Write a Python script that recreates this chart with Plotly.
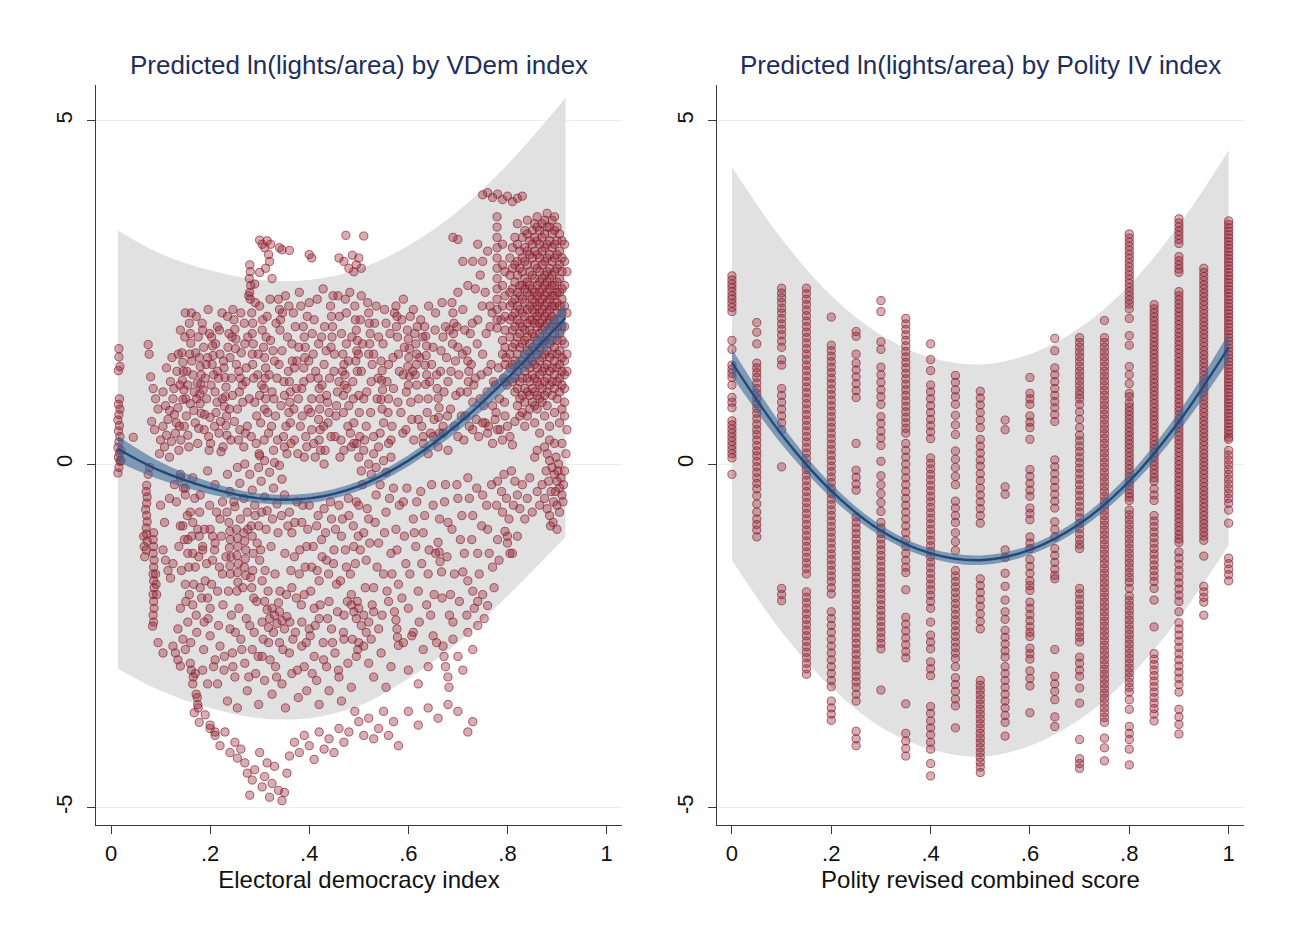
import plotly.graph_objects as go

# ---------------- VDem panel: fitted curve, 95% CI, prediction band ----------------
vdem_grid = [0.014, 0.1, 0.2, 0.3, 0.4, 0.5, 0.6, 0.7, 0.8, 0.917]
vdem_fit = [0.22, -0.10, -0.35, -0.50, -0.50, -0.32, 0.05, 0.58, 1.25, 2.13]
vdem_ci_hi = [0.41, 0.03, -0.26, -0.43, -0.43, -0.25, 0.13, 0.68, 1.39, 2.34]
vdem_ci_lo = [0.03, -0.23, -0.44, -0.57, -0.57, -0.39, -0.03, 0.48, 1.11, 1.92]
vdem_pi_hi = [3.40, 3.06, 2.82, 2.68, 2.68, 2.84, 3.18, 3.68, 4.36, 5.33]
vdem_pi_lo = [-2.98, -3.30, -3.55, -3.70, -3.70, -3.52, -3.12, -2.60, -1.92, -1.06]

# ---------------- Polity panel: fitted curve, 95% CI, prediction band ----------------
polity_grid = [0.0, 0.1, 0.2, 0.3, 0.4, 0.5, 0.6, 0.7, 0.8, 0.9, 1.0]
polity_fit = [1.48, 0.43, -0.39, -0.97, -1.30, -1.40, -1.25, -0.87, -0.25, 0.62, 1.70]
polity_ci_hi = [1.68, 0.57, -0.29, -0.89, -1.23, -1.33, -1.18, -0.79, -0.15, 0.76, 1.90]
polity_ci_lo = [1.28, 0.29, -0.49, -1.05, -1.37, -1.47, -1.32, -0.95, -0.35, 0.48, 1.50]
polity_pi_hi = [4.32, 3.28, 2.45, 1.88, 1.55, 1.45, 1.60, 1.98, 2.60, 3.48, 4.57]
polity_pi_lo = [-1.40, -2.44, -3.25, -3.83, -4.15, -4.26, -4.10, -3.72, -3.10, -2.24, -1.18]

# ---------------- VDem observations (electoral democracy, ln lights/area) ----------------
vdem_low_autocracies = [
    (0.016, 1.68), (0.016, 1.56), (0.018, 1.42), (0.015, 1.36), (0.017, 0.95), (0.015, 0.87),
    (0.018, 0.80), (0.016, 0.72), (0.014, 0.64), (0.017, 0.56), (0.015, 0.48), (0.018, 0.40),
    (0.016, 0.32), (0.014, 0.24), (0.017, 0.16), (0.015, 0.10), (0.018, 0.04), (0.016, -0.05),
    (0.014, -0.13), (0.020, 0.20), (0.020, 0.05),
    (0.072, -0.31), (0.071, -0.40), (0.073, -0.48), (0.072, -0.57), (0.070, -0.66), (0.072, -0.75),
    (0.073, -0.84), (0.071, -0.93), (0.072, -1.02), (0.073, -1.12), (0.071, -1.25), (0.066, -1.05),
    (0.067, -1.20), (0.068, -1.35), (0.086, -1.00), (0.085, -1.10), (0.086, -1.20), (0.085, -1.30),
    (0.087, -1.40), (0.086, -1.50), (0.085, -1.60), (0.086, -1.70), (0.087, -1.80), (0.085, -1.90),
    (0.086, -2.00), (0.087, -2.10), (0.085, -2.20), (0.086, -2.30), (0.084, -2.36), (0.090, -1.60),
    (0.091, -1.75), (0.092, -1.90), (0.075, -0.15), (0.078, -0.05),
    (0.045, 0.39), (0.075, 1.74), (0.077, 1.60), (0.080, 1.27), (0.085, 1.10), (0.090, 0.95),
    (0.095, 0.80), (0.082, 0.62), (0.088, 0.50), (0.100, 0.35), (0.105, 1.05), (0.110, 0.85),
    (0.115, 0.65), (0.120, 1.20), (0.125, 0.95), (0.130, 0.45), (0.098, 0.15), (0.108, 0.25),
    (0.118, 0.10), (0.128, 0.72), (0.112, 1.40), (0.123, 1.55), (0.133, 1.35), (0.137, 0.20),
    (0.105, -1.25), (0.110, -1.40), (0.115, -1.55), (0.120, -1.66), (0.125, -1.45), (0.100, -0.60),
    (0.108, -0.85), (0.118, -0.50), (0.128, -0.30), (0.095, -2.60), (0.105, -2.75),
    (0.105, 0.55), (0.112, 0.42), (0.118, 0.78), (0.122, 0.33), (0.127, 1.10), (0.132, 0.60),
]

vdem_upper_left = [
    (0.143, 1.62), (0.145, 1.48), (0.146, 1.35), (0.144, 1.22), (0.147, 1.08), (0.145, 0.94),
    (0.158, 2.05), (0.160, 1.90), (0.161, 1.76), (0.159, 1.60),
    (0.178, 1.55), (0.180, 1.42), (0.182, 1.30), (0.181, 1.16), (0.179, 1.02), (0.180, 0.88), (0.182, 0.74),
    (0.203, 1.85), (0.205, 1.72), (0.206, 1.58), (0.204, 1.45), (0.207, 1.30),
    (0.228, 1.40), (0.230, 1.26), (0.232, 1.12), (0.231, 0.98), (0.229, 0.84), (0.233, 0.70), (0.232, 0.56),
    (0.248, 2.10), (0.250, 1.96), (0.252, 1.82), (0.251, 1.68),
    (0.135, 0.82), (0.138, 0.55), (0.140, 1.95), (0.150, 2.20), (0.152, 0.70), (0.155, 0.42),
    (0.165, 1.30), (0.168, 1.05), (0.170, 0.60), (0.172, 2.15), (0.175, 0.30), (0.185, 1.95),
    (0.188, 0.50), (0.190, 1.25), (0.193, 0.95), (0.196, 2.25), (0.198, 0.20), (0.210, 1.05),
    (0.212, 0.75), (0.215, 2.00), (0.218, 0.45), (0.220, 1.60), (0.222, 0.18), (0.238, 1.90),
    (0.240, 1.55), (0.242, 0.35), (0.245, 1.00), (0.255, 0.80), (0.258, 1.35), (0.260, 0.50),
    (0.262, 2.20), (0.265, 1.15), (0.268, 0.25), (0.270, 1.75), (0.155, 1.15), (0.195, 1.55),
    (0.215, 1.35), (0.225, 0.95), (0.160, 0.88), (0.200, 0.68), (0.235, 2.15),
    (0.136, 1.60), (0.141, 0.35), (0.149, 1.85), (0.151, 0.95), (0.157, 0.25), (0.163, 1.50),
    (0.167, 0.78), (0.171, 1.62), (0.174, 1.18), (0.177, 0.52), (0.184, 2.05), (0.186, 1.08),
    (0.189, 0.72), (0.192, 1.45), (0.197, 0.40), (0.199, 1.90), (0.202, 1.15), (0.209, 0.55),
    (0.211, 1.75), (0.214, 0.90), (0.217, 1.25), (0.221, 0.62), (0.224, 2.20), (0.227, 1.50),
    (0.234, 0.42), (0.236, 1.70), (0.239, 0.80), (0.243, 1.25), (0.246, 2.25), (0.249, 0.62),
    (0.253, 1.45), (0.257, 0.35), (0.259, 1.05), (0.263, 1.62), (0.266, 0.90), (0.269, 2.05),
    (0.271, 0.45), (0.273, 1.40), (0.148, 0.55), (0.162, 2.20), (0.173, 0.95), (0.187, 1.70),
    (0.201, 0.30), (0.219, 1.95), (0.226, 0.25), (0.244, 1.85), (0.261, 1.25), (0.139, 1.15),
    (0.153, 1.35), (0.176, 1.85),
]

vdem_upper_middle = [
    (0.284, 2.20), (0.286, 2.05), (0.285, 1.90), (0.287, 1.75), (0.285, 1.60), (0.286, 1.45),
    (0.308, 1.70), (0.310, 1.55), (0.312, 1.40), (0.311, 1.25), (0.309, 1.10), (0.312, 0.95), (0.310, 0.80),
    (0.338, 2.40), (0.340, 2.25), (0.342, 2.10), (0.341, 1.95),
    (0.358, 1.35), (0.360, 1.20), (0.362, 1.05), (0.361, 0.90), (0.359, 0.75), (0.362, 0.60),
    (0.388, 2.00), (0.390, 1.85), (0.392, 1.70), (0.391, 1.55), (0.389, 1.40),
    (0.418, 1.25), (0.420, 1.10), (0.422, 0.95), (0.421, 0.80), (0.419, 0.65), (0.422, 0.50), (0.420, 0.35),
    (0.443, 2.30), (0.445, 2.15), (0.447, 2.00), (0.446, 1.85), (0.444, 1.70),
    (0.468, 1.60), (0.470, 1.45), (0.472, 1.30), (0.471, 1.15), (0.469, 1.00),
    (0.493, 2.10), (0.495, 1.95), (0.497, 1.80), (0.496, 1.65), (0.494, 1.50), (0.497, 1.35),
    (0.272, 1.20), (0.275, 0.55), (0.278, 2.45), (0.290, 0.90), (0.293, 0.30), (0.296, 1.30),
    (0.300, 2.30), (0.302, 0.60), (0.305, 1.95), (0.315, 2.15), (0.318, 0.45), (0.322, 1.80),
    (0.325, 1.05), (0.328, 0.20), (0.330, 1.50), (0.332, 0.70), (0.345, 1.65), (0.348, 0.40),
    (0.350, 1.00), (0.352, 2.45), (0.355, 0.15), (0.365, 1.75), (0.368, 2.20), (0.370, 0.35),
    (0.375, 1.50), (0.378, 0.95), (0.380, 2.50), (0.382, 0.55), (0.385, 1.10), (0.395, 0.25),
    (0.398, 0.80), (0.400, 2.35), (0.402, 1.25), (0.405, 0.50), (0.408, 1.60), (0.410, 2.10),
    (0.412, 0.10), (0.425, 1.85), (0.428, 2.55), (0.430, 1.45), (0.432, 0.20), (0.435, 1.00),
    (0.438, 0.60), (0.450, 1.35), (0.452, 0.40), (0.455, 0.85), (0.458, 2.45), (0.460, 1.20),
    (0.462, 0.10), (0.465, 1.90), (0.475, 2.20), (0.478, 0.55), (0.480, 0.85), (0.482, 2.50),
    (0.485, 0.25), (0.488, 1.20), (0.490, 0.60), (0.500, 1.00), (0.502, 0.40), (0.505, 2.45),
    (0.300, 1.00), (0.335, 1.25), (0.370, 1.40), (0.405, 0.95), (0.440, 0.75), (0.475, 1.75),
    (0.276, 1.85), (0.279, 0.95), (0.283, 0.40), (0.288, 1.25), (0.291, 2.35), (0.294, 0.70),
    (0.297, 1.60), (0.299, 0.15), (0.304, 1.15), (0.306, 2.10), (0.309, 0.35), (0.313, 1.85),
    (0.316, 0.75), (0.319, 1.30), (0.321, 2.40), (0.324, 0.55), (0.327, 1.65), (0.329, 0.95),
    (0.333, 2.05), (0.336, 0.35), (0.339, 1.45), (0.343, 0.85), (0.346, 2.20), (0.349, 1.20),
    (0.353, 0.55), (0.356, 1.85), (0.359, 2.30), (0.363, 0.30), (0.366, 1.50), (0.369, 0.80),
    (0.372, 2.00), (0.374, 1.10), (0.377, 0.15), (0.379, 1.70), (0.383, 2.30), (0.386, 0.70),
    (0.389, 1.20), (0.393, 0.40), (0.396, 2.15), (0.399, 1.50), (0.403, 0.75), (0.406, 1.90),
    (0.409, 0.30), (0.413, 1.35), (0.416, 2.40), (0.419, 1.75), (0.423, 0.20), (0.426, 1.15),
    (0.429, 0.55), (0.431, 2.00), (0.434, 1.65), (0.437, 0.90), (0.441, 1.25), (0.444, 0.40),
    (0.448, 2.45), (0.451, 1.60), (0.454, 0.70), (0.457, 1.05), (0.461, 2.15), (0.464, 0.35),
    (0.467, 1.35), (0.469, 0.75), (0.473, 2.40), (0.476, 1.10), (0.479, 1.50), (0.483, 0.45),
    (0.486, 1.85), (0.489, 0.95), (0.492, 2.30), (0.496, 0.30), (0.499, 1.60), (0.501, 0.75),
    (0.503, 2.10), (0.310, 0.05), (0.350, 0.25), (0.390, 0.10), (0.430, 0.00), (0.470, 0.20),
    # isolated high values above the main cloud
    (0.280, 2.90), (0.281, 2.80), (0.279, 2.70), (0.282, 2.60), (0.280, 2.50), (0.281, 2.40),
    (0.300, 3.26), (0.305, 3.20), (0.310, 3.15), (0.315, 3.25), (0.318, 3.05), (0.320, 2.95),
    (0.312, 2.85), (0.322, 3.20), (0.300, 2.79), (0.290, 2.62), (0.325, 2.70), (0.340, 3.15),
    (0.345, 3.12), (0.360, 3.11), (0.400, 3.05), (0.405, 3.00), (0.460, 3.00), (0.470, 2.95),
    (0.480, 2.85), (0.490, 2.80), (0.474, 3.33), (0.510, 3.32), (0.487, 3.04), (0.495, 2.90),
    (0.500, 3.00), (0.505, 2.85),
]

vdem_near_curve = [
    (0.140, -0.15), (0.150, -0.35), (0.165, -0.20), (0.180, -0.45), (0.195, -0.10), (0.210, -0.30),
    (0.225, -0.55), (0.235, -0.15), (0.240, -0.40), (0.250, -0.62), (0.255, -0.05), (0.260, -0.28),
    (0.268, -0.50), (0.275, -0.70), (0.280, -0.15), (0.285, -0.38), (0.290, -0.60), (0.298, -0.05),
    (0.303, -0.25), (0.310, -0.48), (0.315, -0.68), (0.320, -0.12), (0.328, -0.35), (0.335, -0.58),
    (0.340, -0.02), (0.345, -0.22), (0.350, -0.45), (0.270, 0.00), (0.300, 0.12), (0.330, 0.02),
    (0.490, 0.30), (0.500, 0.10), (0.505, -0.10), (0.510, 0.20), (0.520, 0.00), (0.525, -0.15),
    (0.530, 0.15), (0.535, -0.05), (0.540, 0.25), (0.550, 0.05), (0.555, -0.12), (0.560, 0.30),
    (0.565, 0.10), (0.630, 0.30), (0.640, 0.15), (0.650, 0.40), (0.660, 0.25), (0.670, 0.45),
    (0.680, 0.20),
]

vdem_lower_middle = [
    (0.140, -0.90), (0.148, -1.10), (0.155, -1.30), (0.165, -0.85), (0.170, -1.50), (0.178, -1.05),
    (0.185, -1.25), (0.190, -1.70), (0.200, -0.95), (0.205, -1.40), (0.210, -1.15), (0.215, -1.85),
    (0.220, -0.80), (0.225, -1.60), (0.140, -0.20), (0.150, -0.45), (0.160, -0.70), (0.175, -0.95),
    (0.205, -1.05), (0.145, -0.90), (0.155, -1.10), (0.165, -1.30), (0.185, -1.20),
    (0.238, -0.85), (0.240, -0.98), (0.241, -1.10), (0.239, -1.22), (0.242, -1.35), (0.240, -1.48),
    (0.241, -1.60), (0.253, -0.95), (0.255, -1.08), (0.256, -1.20), (0.254, -1.33), (0.257, -1.45),
    (0.255, -1.58), (0.256, -1.72), (0.254, -1.85), (0.268, -1.00), (0.270, -1.12), (0.272, -1.25),
    (0.271, -1.38), (0.269, -1.50), (0.272, -1.62), (0.283, -0.90), (0.285, -1.05), (0.287, -1.30),
    (0.286, -1.55), (0.284, -1.80), (0.288, -1.95), (0.295, -1.15), (0.300, -1.40), (0.305, -1.70),
    (0.298, -0.90),
    (0.150, -1.75), (0.158, -1.90), (0.165, -2.05), (0.172, -2.20), (0.180, -1.80), (0.188, -2.30),
    (0.195, -1.95), (0.200, -2.10), (0.140, -2.10), (0.135, -2.40), (0.145, -2.55), (0.155, -2.30),
    (0.310, -2.00), (0.315, -2.12), (0.320, -2.25), (0.325, -2.10), (0.330, -2.20), (0.335, -2.32),
    (0.340, -2.15), (0.345, -2.28), (0.350, -2.40), (0.318, -2.38), (0.328, -2.45), (0.305, -2.30),
    (0.338, -2.02), (0.355, -2.22),
    (0.360, -0.70), (0.365, -1.00), (0.370, -1.35), (0.375, -0.55), (0.380, -1.60), (0.385, -0.85),
    (0.390, -1.90), (0.395, -1.20), (0.400, -0.60), (0.405, -1.50), (0.410, -2.10), (0.415, -0.90),
    (0.420, -1.70), (0.425, -1.10), (0.430, -0.65), (0.435, -1.40), (0.440, -2.00), (0.445, -0.80),
    (0.450, -1.25), (0.455, -1.75), (0.460, -0.60), (0.465, -1.05), (0.470, -2.20), (0.475, -1.50),
    (0.480, -0.75), (0.485, -1.90), (0.490, -1.20), (0.495, -0.55), (0.365, -1.80), (0.385, -2.30),
    (0.400, -2.40), (0.420, -2.25),
    (0.485, -2.05), (0.490, -2.15), (0.495, -2.25), (0.500, -2.10), (0.505, -2.35), (0.510, -2.20),
    (0.515, -2.45), (0.520, -2.30), (0.525, -2.55), (0.500, -2.60), (0.510, -2.65), (0.495, -2.80),
    (0.530, -2.15), (0.540, -2.40), (0.575, -2.27), (0.577, -2.40), (0.578, -2.52), (0.580, -2.64),
    (0.132, -0.55), (0.137, -1.20), (0.142, -1.55), (0.146, -0.35), (0.151, -2.00), (0.154, -0.75),
    (0.157, -1.50), (0.161, -2.60), (0.163, -1.05), (0.167, -1.75), (0.169, -0.50), (0.173, -2.45),
    (0.177, -1.35), (0.179, -0.70), (0.183, -1.95), (0.187, -2.70), (0.189, -0.95), (0.193, -1.45),
    (0.196, -2.25), (0.199, -0.60), (0.203, -1.75), (0.207, -2.95), (0.209, -1.25), (0.213, -0.70),
    (0.217, -2.35), (0.219, -1.50), (0.223, -1.05), (0.226, -2.05), (0.229, -2.80), (0.232, -1.35),
    (0.234, -0.70), (0.237, -1.85), (0.243, -2.20), (0.246, -2.95), (0.248, -0.55), (0.251, -2.45),
    (0.258, -2.10), (0.261, -0.80), (0.264, -2.70), (0.266, -1.80), (0.273, -2.25), (0.276, -0.95),
    (0.278, -3.10), (0.282, -1.65), (0.289, -2.45), (0.291, -0.75), (0.294, -2.00), (0.297, -2.80),
    (0.302, -1.25), (0.304, -0.70), (0.307, -2.55), (0.311, -1.55), (0.313, -0.95), (0.317, -1.85),
    (0.321, -2.85), (0.323, -1.20), (0.326, -0.80), (0.331, -1.60), (0.334, -3.10), (0.337, -1.00),
    (0.341, -1.85), (0.344, -0.75), (0.347, -2.70), (0.351, -1.30), (0.354, -1.90), (0.357, -0.90),
    (0.361, -2.30), (0.363, -1.55), (0.367, -2.55), (0.371, -0.85), (0.374, -1.95), (0.376, -3.00),
    (0.381, -1.25), (0.384, -2.05), (0.387, -0.60), (0.392, -1.50), (0.394, -2.60), (0.397, -0.95),
    (0.403, -1.85), (0.406, -3.05), (0.408, -1.20), (0.412, -2.35), (0.416, -1.55), (0.418, -0.75),
    (0.422, -2.05), (0.426, -1.35), (0.429, -2.85), (0.433, -1.00), (0.437, -2.25), (0.439, -1.60),
    (0.443, -0.55), (0.447, -2.60), (0.449, -1.45), (0.453, -0.95), (0.457, -2.15), (0.459, -3.00),
    (0.463, -1.70), (0.467, -0.80), (0.469, -2.45), (0.473, -1.25), (0.477, -2.00), (0.479, -0.50),
    (0.483, -1.60), (0.487, -2.55), (0.489, -0.90), (0.493, -1.45), (0.497, -2.00), (0.499, -1.05),
]

vdem_lower_tail = [
    (0.125, -2.65), (0.130, -2.75), (0.135, -2.85), (0.140, -2.94), (0.150, -2.70), (0.160, -2.90),
    (0.170, -3.05), (0.165, -3.20), (0.172, -3.35), (0.175, -3.50), (0.168, -3.62), (0.178, -3.76),
    (0.190, -3.65), (0.200, -3.80), (0.210, -3.90), (0.185, -3.00), (0.195, -3.20), (0.162, -3.00),
    (0.166, -3.10), (0.174, -3.40), (0.176, -3.55),
    (0.200, -2.50), (0.210, -2.85), (0.215, -3.20), (0.220, -2.65), (0.228, -3.00), (0.235, -3.45),
    (0.240, -2.40), (0.245, -2.75), (0.250, -3.10), (0.255, -3.55), (0.262, -2.55), (0.270, -2.90),
    (0.275, -3.30), (0.280, -2.35), (0.285, -2.70), (0.292, -3.05), (0.298, -3.50), (0.305, -2.80),
    (0.310, -3.15), (0.318, -2.60), (0.325, -3.35), (0.332, -2.95), (0.340, -2.60), (0.345, -3.20),
    (0.352, -3.55), (0.360, -2.75), (0.365, -3.05), (0.372, -2.45), (0.378, -3.40), (0.385, -2.65),
    (0.390, -2.95), (0.395, -3.30), (0.402, -2.50), (0.410, -2.80), (0.415, -3.15), (0.420, -3.50),
    (0.428, -2.60), (0.435, -2.95), (0.440, -3.30), (0.445, -2.40), (0.452, -2.75), (0.460, -3.10),
    (0.465, -3.45), (0.470, -2.55), (0.478, -2.90), (0.485, -3.25), (0.492, -3.60), (0.498, -2.70),
    (0.200, -3.85), (0.210, -3.95), (0.220, -4.10), (0.230, -3.90), (0.240, -4.20), (0.250, -4.05),
    (0.255, -4.28), (0.262, -4.15), (0.270, -4.35), (0.275, -4.50), (0.280, -4.82), (0.285, -4.60),
    (0.290, -4.45), (0.300, -4.20), (0.305, -4.70), (0.310, -4.55), (0.315, -4.35), (0.320, -4.85),
    (0.325, -4.65), (0.330, -4.40), (0.338, -4.75), (0.345, -4.90), (0.350, -4.78), (0.355, -4.50),
    (0.360, -4.25), (0.370, -4.05), (0.380, -4.20), (0.390, -3.95), (0.400, -4.10), (0.410, -4.30),
    (0.420, -3.90), (0.430, -4.15), (0.440, -4.00), (0.450, -4.20), (0.460, -3.85), (0.470, -4.05),
    (0.480, -3.90), (0.500, -3.75), (0.510, -3.95), (0.520, -3.70), (0.530, -4.00), (0.540, -3.85),
    (0.550, -3.60), (0.560, -3.95), (0.570, -3.75), (0.580, -4.10), (0.600, -3.60), (0.620, -3.80),
    (0.640, -3.55), (0.660, -3.70), (0.680, -3.50), (0.700, -3.60), (0.720, -3.90), (0.730, -3.75),
]

vdem_upper_right = [
    (0.520, 2.20), (0.521, 2.05), (0.523, 1.90), (0.522, 1.75), (0.520, 1.60),
    (0.545, 1.50), (0.547, 1.36), (0.546, 1.22), (0.548, 1.08), (0.545, 0.94), (0.547, 0.80),
    (0.575, 2.30), (0.577, 2.15), (0.576, 2.00), (0.578, 1.85),
    (0.598, 1.95), (0.600, 1.82), (0.602, 1.68), (0.601, 1.55), (0.599, 1.42), (0.602, 1.28), (0.600, 1.15),
    (0.613, 1.90), (0.615, 1.75), (0.617, 1.60), (0.616, 1.45), (0.614, 1.30), (0.617, 1.15),
    (0.633, 2.00), (0.635, 1.86), (0.637, 1.72), (0.636, 1.58), (0.634, 1.44), (0.637, 1.30), (0.635, 1.16),
    (0.658, 1.10), (0.660, 0.96), (0.662, 0.82), (0.661, 0.68),
    (0.688, 2.35), (0.690, 2.20), (0.692, 2.05), (0.691, 1.90), (0.689, 1.75),
    (0.718, 1.65), (0.720, 1.50), (0.722, 1.35), (0.721, 1.20), (0.719, 1.05),
    (0.505, 1.35), (0.510, 0.95), (0.515, 0.55), (0.525, 1.20), (0.530, 0.40), (0.535, 2.30),
    (0.540, 1.85), (0.550, 0.60), (0.555, 2.05), (0.560, 1.45), (0.565, 0.35), (0.570, 1.10),
    (0.580, 1.60), (0.585, 0.75), (0.590, 2.40), (0.595, 0.50), (0.605, 0.90), (0.610, 2.25),
    (0.620, 0.65), (0.625, 2.10), (0.640, 0.95), (0.645, 0.45), (0.650, 1.70), (0.655, 2.20),
    (0.665, 1.35), (0.670, 0.55), (0.675, 2.00), (0.680, 1.20), (0.685, 0.80), (0.695, 1.50),
    (0.700, 0.40), (0.705, 1.05), (0.710, 2.25), (0.715, 0.70), (0.725, 1.90), (0.730, 0.50),
    (0.735, 1.25), (0.740, 2.10), (0.745, 0.95), (0.750, 1.60), (0.755, 0.60), (0.760, 1.35),
    (0.765, 2.00), (0.770, 0.85), (0.775, 1.15), (0.780, 0.50), (0.530, 1.60), (0.560, 0.95),
    (0.590, 1.30), (0.630, 0.40), (0.670, 1.85), (0.700, 1.70), (0.730, 0.90),
    (0.750, 0.60), (0.760, 0.45), (0.770, 0.30), (0.775, 0.65), (0.785, 0.50), (0.790, 0.35),
    (0.795, 0.70), (0.800, 0.55), (0.805, 0.40), (0.810, 0.28), (0.815, 0.62),
    (0.690, 3.30), (0.700, 3.27), (0.710, 2.95), (0.730, 2.95), (0.740, 3.20), (0.745, 2.75),
    (0.750, 2.95), (0.755, 2.50), (0.760, 3.10), (0.765, 2.30), (0.735, 2.55), (0.720, 2.60),
    (0.700, 2.50),
    (0.508, 1.75), (0.512, 0.35), (0.516, 1.05), (0.518, 2.35), (0.524, 0.75), (0.527, 1.45),
    (0.532, 2.05), (0.537, 0.95), (0.539, 1.25), (0.543, 0.45), (0.549, 1.75), (0.552, 2.25),
    (0.557, 1.20), (0.559, 0.75), (0.563, 1.90), (0.567, 0.55), (0.569, 1.55), (0.572, 2.20),
    (0.579, 0.90), (0.582, 1.35), (0.587, 2.10), (0.589, 0.45), (0.592, 1.70), (0.596, 1.05),
    (0.604, 2.15), (0.607, 0.65), (0.609, 1.35), (0.611, 0.35), (0.618, 2.00), (0.621, 0.95),
    (0.623, 1.55), (0.627, 0.55), (0.629, 1.85), (0.638, 0.75), (0.641, 2.30), (0.643, 1.20),
    (0.647, 1.45), (0.652, 0.65), (0.654, 1.95), (0.657, 1.30), (0.663, 0.45), (0.666, 1.65),
    (0.668, 2.35), (0.672, 1.05), (0.677, 1.55), (0.679, 0.70), (0.683, 1.95), (0.686, 1.35),
    (0.693, 0.55), (0.696, 1.00), (0.698, 2.00), (0.702, 1.30), (0.707, 0.70), (0.709, 1.60),
    (0.712, 0.35), (0.714, 1.95), (0.723, 0.55), (0.727, 1.45), (0.729, 2.05), (0.732, 1.15),
    (0.737, 0.65), (0.739, 1.75), (0.742, 0.40), (0.747, 1.30), (0.749, 2.30), (0.752, 0.85),
    (0.757, 1.90), (0.759, 1.05), (0.762, 0.55), (0.767, 1.45), (0.769, 2.20), (0.772, 1.20),
    (0.777, 0.75), (0.782, 1.40), (0.784, 0.95), (0.787, 2.10), (0.792, 1.25), (0.794, 0.90),
    (0.797, 1.55), (0.799, 1.15),
]

vdem_lower_right = [
    (0.500, -0.60), (0.510, -1.00), (0.515, -1.40), (0.520, -0.80), (0.530, -1.80), (0.535, -0.45),
    (0.540, -1.15), (0.550, -1.60), (0.555, -0.70), (0.560, -2.00), (0.565, -1.30), (0.570, -0.35),
    (0.575, -0.95), (0.580, -1.75), (0.590, -0.55), (0.595, -1.45), (0.600, -2.10), (0.610, -0.80),
    (0.615, -1.20), (0.620, -1.85), (0.625, -0.40), (0.630, -1.00), (0.640, -1.60), (0.645, -2.20),
    (0.650, -0.60), (0.655, -1.30), (0.660, -1.14), (0.662, -1.28), (0.664, -1.42), (0.667, -1.57),
    (0.675, -0.30), (0.680, -0.85), (0.685, -1.90), (0.690, -2.30), (0.700, -0.50), (0.705, -1.10),
    (0.710, -1.57), (0.720, -1.70), (0.730, -1.85), (0.740, -2.00), (0.750, -1.90), (0.760, -2.06),
    (0.720, -0.20), (0.730, -0.75), (0.740, -1.30), (0.750, -0.45), (0.760, -0.95), (0.770, -1.50),
    (0.780, -0.25), (0.790, -0.70), (0.800, -1.05), (0.805, -1.30), (0.780, -1.10),
    (0.520, -2.90), (0.530, -3.10), (0.545, -2.75), (0.555, -3.25), (0.565, -2.95), (0.590, -2.60),
    (0.600, -3.00), (0.610, -2.45), (0.620, -3.20), (0.630, -2.70), (0.640, -2.95), (0.650, -2.50),
    (0.670, -2.65), (0.672, -2.80), (0.675, -2.95), (0.680, -3.10), (0.682, -3.25), (0.690, -2.55),
    (0.700, -2.80), (0.710, -3.00), (0.720, -2.45), (0.730, -2.70), (0.740, -2.35),
    (0.815, -0.25), (0.820, -0.45), (0.825, -0.65), (0.830, -0.30), (0.835, -0.80), (0.840, -0.50),
    (0.845, -0.20), (0.850, -0.70), (0.860, -0.40), (0.865, -0.60), (0.855, 0.10), (0.860, 0.20),
    (0.875, 0.25), (0.880, 0.15), (0.885, 0.05), (0.890, -0.05), (0.895, -0.15), (0.900, -0.25),
    (0.905, -0.35), (0.910, -0.45), (0.915, -0.10), (0.878, -0.10), (0.883, -0.25), (0.888, -0.40),
    (0.893, -0.55), (0.898, 0.10), (0.903, 0.00), (0.908, -0.20), (0.913, -0.30), (0.918, 0.15),
    (0.870, -0.30), (0.875, -0.50), (0.880, -0.65), (0.885, -0.75), (0.892, -0.85), (0.900, -0.60),
    (0.910, 0.30), (0.895, 0.30), (0.905, -0.70), (0.885, 0.35), (0.897, -0.40), (0.902, -0.10),
    (0.912, -0.55), (0.887, -0.90), (0.900, -0.95),
    (0.795, -0.98), (0.800, -1.15), (0.810, -1.30), (0.820, -1.05),
    (0.503, -1.25), (0.507, -0.30), (0.513, -1.80), (0.517, -0.65), (0.522, -1.15), (0.527, -2.05),
    (0.533, -0.85), (0.537, -1.50), (0.543, -0.30), (0.547, -2.20), (0.552, -1.00), (0.557, -1.85),
    (0.562, -0.50), (0.567, -1.60), (0.572, -2.15), (0.577, -1.25), (0.582, -0.60), (0.587, -1.95),
    (0.592, -1.05), (0.597, -0.35), (0.603, -1.60), (0.607, -2.50), (0.612, -1.00), (0.617, -0.55),
    (0.622, -2.30), (0.627, -1.45), (0.633, -0.75), (0.637, -2.05), (0.642, -1.25), (0.647, -0.30),
    (0.652, -1.90), (0.657, -2.60), (0.663, -0.80), (0.668, -1.95), (0.673, -0.55), (0.678, -1.35),
    (0.683, -2.20), (0.688, -0.95), (0.693, -1.60), (0.698, -0.30), (0.703, -2.00), (0.708, -0.75),
    (0.713, -1.30), (0.718, -2.20), (0.723, -0.50), (0.728, -1.10), (0.733, -2.10), (0.738, -0.35),
    (0.743, -1.60), (0.748, -0.90), (0.753, -2.25), (0.758, -0.60), (0.763, -1.30), (0.768, -0.30),
    (0.773, -1.80), (0.778, -0.60), (0.783, -1.40), (0.788, -0.40), (0.793, -0.15), (0.798, -0.50),
    (0.803, -0.80), (0.808, -0.10), (0.812, -0.60),
]

# dense cluster of established democracies: (x, list of y)
vdem_democracy_columns = [
    (0.795, [2.8, 2.45, 2.15, 1.95, 1.7, 1.45, 1.2]),
    (0.805, [3.0, 2.75, 2.5, 2.3, 2.1, 1.85, 1.6, 1.4]),
    (0.810, [3.15, 2.85, 2.55, 2.35, 2.15, 1.95, 1.7, 1.45, 1.2]),
    (0.815, [3.3, 2.9, 2.65, 2.4, 2.2, 2.0, 1.75, 1.5, 1.25, 1.05]),
    (0.820, [3.5, 3.2, 2.95, 2.75, 2.5, 2.3, 2.1, 1.85, 1.6, 1.35, 1.1, 0.85]),
    (0.825, [3.1, 2.85, 2.6, 2.45, 2.25, 2.05, 1.9, 1.7, 1.45, 1.2, 0.95, 0.7]),
    (0.830, [3.3, 3.0, 2.8, 2.6, 2.4, 2.2, 2.0, 1.75, 1.5, 1.25, 1.0, 0.75]),
    (0.835, [3.4, 3.15, 2.95, 2.7, 2.55, 2.35, 2.15, 1.95, 1.8, 1.6, 1.35, 1.1, 0.9, 0.55]),
    (0.840, [3.55, 3.35, 3.1, 2.9, 2.65, 2.5, 2.25, 2.05, 1.85, 1.65, 1.45, 1.25, 1.05, 0.7]),
    (0.845, [3.25, 3.05, 2.8, 2.6, 2.45, 2.3, 2.1, 1.95, 1.75, 1.55, 1.4, 1.2, 1.0, 0.8]),
    (0.850, [3.4, 3.2, 3.0, 2.75, 2.55, 2.4, 2.25, 2.1, 1.9, 1.7, 1.5, 1.3, 1.1, 0.9]),
    (0.855, [3.5, 3.3, 3.1, 2.9, 2.7, 2.5, 2.35, 2.2, 2.05, 1.85, 1.65, 1.45, 1.25, 1.05, 0.85, 0.6]),
    (0.860, [3.6, 3.45, 3.25, 3.05, 2.85, 2.6, 2.45, 2.3, 2.15, 2.0, 1.8, 1.6, 1.4, 1.2, 1.0, 0.8]),
    (0.865, [3.4, 3.2, 3.0, 2.8, 2.65, 2.5, 2.35, 2.2, 2.05, 1.9, 1.7, 1.5, 1.3, 1.15, 0.95, 0.45]),
    (0.870, [3.5, 3.3, 3.1, 2.9, 2.7, 2.55, 2.4, 2.25, 2.1, 1.95, 1.75, 1.55, 1.35, 1.1, 0.9]),
    (0.875, [3.55, 3.35, 3.15, 2.95, 2.75, 2.6, 2.45, 2.3, 2.15, 2.0, 1.8, 1.6, 1.4, 1.2, 1.0, 0.7]),
    (0.880, [3.65, 3.45, 3.2, 3.0, 2.8, 2.65, 2.5, 2.35, 2.2, 2.05, 1.85, 1.65, 1.45, 1.25, 1.05, 0.85]),
    (0.885, [3.45, 3.25, 3.05, 2.85, 2.7, 2.55, 2.4, 2.25, 2.1, 1.95, 1.75, 1.55, 1.35, 1.15, 0.55]),
    (0.890, [3.55, 3.35, 3.15, 2.95, 2.75, 2.6, 2.45, 2.3, 2.15, 2.0, 1.8, 1.6, 1.4, 1.2, 1.0]),
    (0.895, [3.6, 3.4, 3.2, 3.0, 2.8, 2.6, 2.45, 2.3, 2.1, 1.9, 1.7, 1.5, 1.3, 1.1, 0.75]),
    (0.900, [3.45, 3.25, 3.05, 2.85, 2.65, 2.5, 2.35, 2.2, 2.0, 1.8, 1.6, 1.4, 1.2, 0.95]),
    (0.905, [3.35, 3.1, 2.9, 2.7, 2.5, 2.3, 2.1, 1.9, 1.65, 1.45, 1.25, 1.05, 0.6]),
    (0.910, [3.25, 3.0, 2.8, 2.55, 2.4, 2.2, 2.0, 1.8, 1.55, 1.35, 1.15, 0.8]),
    (0.915, [3.2, 2.95, 2.6, 2.3, 2.0, 1.75, 1.5, 1.3, 1.1, 0.9, 0.7]),
    (0.920, [2.8, 2.2, 1.6, 1.35, 0.5]),
    (0.779, [3.6, 3.45, 3.3, 3.15, 3.0, 2.85, 2.7, 2.55, 2.4, 2.25, 2.1, 1.98]),
    (0.790, [3.2, 2.9, 2.6, 2.3, 1.8, 1.6]),
]
vdem_top_row = [
    (0.750, 3.92), (0.760, 3.95), (0.770, 3.88), (0.780, 3.93), (0.790, 3.85), (0.800, 3.90),
    (0.810, 3.82), (0.820, 3.87), (0.830, 3.90),
]

# ---------------- Polity observations: one list of y per score level ----------------
polity_levels = [0.0, 0.05, 0.1, 0.15, 0.2, 0.25, 0.3, 0.35, 0.4, 0.45, 0.5,
                 0.55, 0.6, 0.65, 0.7, 0.75, 0.8, 0.85, 0.9, 0.95, 1.0]
polity_y_000 = [2.74, 2.68, 2.62, 2.57, 2.51, 2.45, 2.40, 2.34, 2.28, 2.22, 1.80, 1.67, 1.44, 1.38,
                1.32, 1.26, 1.15, 0.97, 0.90, 0.82, 0.63, 0.57, 0.51, 0.45, 0.39, 0.33, 0.27, 0.21,
                0.15, 0.09, -0.15]
polity_y_005 = [2.06, 1.92, 1.75, 1.47, 1.40, 1.33, 1.26, 1.18, 1.10, 1.03, 0.96, 0.88, 0.81, 0.74,
                0.66, 0.58, 0.50, 0.43, 0.35, 0.27, 0.19, 0.12, 0.04, -0.04, -0.12, -0.20, -0.28,
                -0.36, -0.46, -0.58, -0.70, -0.80, -0.88, -0.96, -1.06]
polity_y_010 = [2.56, 2.49, 2.42, 2.35, 2.27, 2.20, 2.12, 2.04, 1.96, 1.88, 1.79, 1.70, 1.52, 1.44,
                1.10, 1.00, 0.90, 0.80, 0.70, 0.60, 0.50, -0.04, -1.81, -1.90, -1.99]
polity_y_015 = [2.56, 2.48, 2.40, 2.32, 2.24, 2.16, 2.08, 2.00, 1.92, 1.84, 1.76, 1.68, 1.60, 1.52,
                1.44, 1.36, 1.28, 1.20, 1.12, 1.04, 0.96, 0.88, 0.80, 0.72, 0.64, 0.56, 0.48, 0.40,
                0.32, 0.24, 0.16, 0.08, 0.00, -0.08, -0.16, -0.24, -0.32, -0.40, -0.48, -0.56, -0.64,
                -0.72, -0.80, -0.88, -0.96, -1.04, -1.12, -1.20, -1.28, -1.36, -1.44, -1.52, -1.60,
                -1.86, -1.94, -2.02, -2.10, -2.18, -2.26, -2.34, -2.42, -2.50, -2.58, -2.66, -2.74,
                -2.82, -2.90, -2.98, -3.06]
polity_y_020 = [2.14, 1.73, 1.65, 1.57, 1.49, 1.41, 1.33, 1.25, 1.17, 1.09, 1.01, 0.93, 0.85, 0.77,
                0.69, 0.61, 0.53, 0.45, 0.37, 0.29, 0.21, 0.13, 0.05, -0.03, -0.11, -0.19, -0.27,
                -0.35, -0.43, -0.51, -0.59, -0.67, -0.75, -0.83, -0.91, -0.99, -1.07, -1.15, -1.23,
                -1.31, -1.39, -1.47, -1.55, -1.63, -1.71, -1.80, -1.89, -2.15, -2.25, -2.35, -2.45,
                -2.55, -2.65, -2.75, -2.85, -2.95, -3.05, -3.15, -3.24, -3.45, -3.55, -3.64, -3.73]
polity_y_025 = [1.93, 1.86, 1.60, 1.47, 1.37, 1.27, 1.17, 1.07, 0.97, 0.30, -0.09, -0.19, -0.29,
                -0.38, -0.77, -0.85, -0.93, -1.01, -1.09, -1.17, -1.25, -1.33, -1.41, -1.49, -1.57,
                -1.65, -1.73, -1.81, -1.89, -1.97, -2.05, -2.13, -2.21, -2.29, -2.37, -2.45, -2.53,
                -2.61, -2.69, -2.77, -2.85, -2.93, -3.01, -3.09, -3.17, -3.25, -3.35, -3.45, -3.89,
                -4.00, -4.10]
polity_y_030 = [2.38, 2.22, 1.78, 1.67, 1.41, 1.30, 1.19, 1.08, 0.98, 0.87, 0.69, 0.59, 0.48, 0.38,
                0.27, 0.04, -0.17, -0.30, -0.43, -0.56, -0.69, -0.85, -0.93, -1.01, -1.09, -1.17,
                -1.25, -1.33, -1.41, -1.49, -1.57, -1.65, -1.73, -1.81, -1.89, -1.97, -2.05, -2.13,
                -2.21, -2.29, -2.37, -2.45, -2.53, -2.61, -2.69, -3.29]
polity_y_035 = [2.12, 2.04, 1.96, 1.88, 1.80, 1.72, 1.64, 1.56, 1.48, 1.40, 1.32, 1.24, 1.16, 1.08,
                1.00, 0.92, 0.84, 0.76, 0.68, 0.60, 0.52, 0.45, 0.30, 0.20, 0.10, 0.00, -0.10, -0.20,
                -0.30, -0.40, -0.50, -0.60, -0.70, -0.80, -0.90, -1.00, -1.10, -1.20, -1.30, -1.40,
                -1.50, -1.58, -1.83, -2.23, -2.33, -2.43, -2.53, -2.63, -2.73, -2.82, -3.49, -3.92,
                -4.03, -4.14, -4.25]
polity_y_040 = [1.75, 1.52, 1.36, 1.15, 1.05, 0.95, 0.85, 0.75, 0.65, 0.56, 0.47, 0.37, 0.09, 0.01,
                -0.07, -0.15, -0.23, -0.31, -0.39, -0.47, -0.55, -0.63, -0.71, -0.79, -0.87, -0.95,
                -1.03, -1.11, -1.19, -1.27, -1.35, -1.43, -1.51, -1.59, -1.67, -1.75, -1.83, -1.91,
                -2.00, -2.10, -2.30, -2.49, -2.59, -2.69, -2.88, -2.98, -3.08, -3.53, -3.63, -3.74,
                -3.84, -3.94, -4.05, -4.15, -4.36, -4.54]
polity_y_045 = [1.29, 1.19, 1.08, 0.98, 0.87, 0.71, 0.57, 0.43, 0.19, 0.07, -0.05, -0.18, -0.30,
                -0.54, -0.64, -0.75, -0.85, -1.00, -1.13, -1.26, -1.55, -1.63, -1.71, -1.79, -1.87,
                -1.95, -2.03, -2.11, -2.19, -2.27, -2.35, -2.43, -2.51, -2.59, -2.67, -2.75, -2.83,
                -2.95, -3.11, -3.21, -3.31, -3.42, -3.52, -3.84]
polity_y_050 = [1.06, 0.96, 0.86, 0.75, 0.64, 0.53, 0.36, 0.26, 0.16, 0.06, -0.03, -0.14, -0.24,
                -0.35, -0.45, -0.55, -0.65, -0.75, -0.86, -1.67, -1.77, -1.87, -1.97, -2.07, -2.18,
                -2.29, -2.40, -3.15, -3.22, -3.29, -3.36, -3.43, -3.50, -3.57, -3.64, -3.71, -3.78,
                -3.85, -3.92, -3.99, -4.06, -4.13, -4.20, -4.27, -4.34, -4.41, -4.49]
polity_y_055 = [0.64, 0.50, -0.33, -0.44, -1.25, -1.36, -1.59, -1.78, -1.98, -2.15, -2.26, -2.42,
                -2.52, -2.62, -2.72, -2.81, -2.95, -3.05, -3.15, -3.25, -3.35, -3.45, -3.55, -3.66,
                -3.76, -3.96]
polity_y_060 = [1.26, 1.03, 0.95, 0.87, 0.70, 0.61, 0.53, 0.36, -0.08, -0.18, -0.28, -0.38, -0.47,
                -0.64, -0.72, -0.81, -1.06, -1.15, -1.23, -1.39, -1.49, -1.59, -1.70, -1.77, -1.84,
                -2.01, -2.10, -2.19, -2.28, -2.37, -2.45, -2.51, -2.68, -2.76, -2.84, -3.01, -3.12,
                -3.23, -3.62]
polity_y_065 = [1.83, 1.65, 1.40, 1.30, 1.20, 1.10, 1.00, 0.91, 0.82, 0.72, 0.62, 0.06, -0.04,
                -0.14, -0.24, -0.34, -0.44, -0.54, -0.64, -0.84, -0.95, -1.06, -1.23, -1.33, -1.43,
                -1.53, -1.62, -1.67, -2.70, -3.09, -3.20, -3.31, -3.43, -3.68, -3.82]
polity_y_070 = [1.84, 1.77, 1.70, 1.63, 1.56, 1.49, 1.42, 1.35, 1.28, 1.21, 1.14, 1.07, 1.01, 0.95,
                0.87, 0.76, 0.65, 0.53, 0.42, 0.34, 0.26, 0.18, 0.10, 0.02, -0.06, -0.14, -0.22,
                -0.30, -0.38, -0.46, -0.54, -0.62, -0.70, -0.78, -0.86, -0.94, -1.02, -1.10, -1.17,
                -1.23, -1.81, -1.89, -1.97, -2.05, -2.13, -2.21, -2.29, -2.37, -2.45, -2.52, -2.59,
                -2.81, -2.90, -3.00, -3.09, -3.26, -3.48, -4.01, -4.29, -4.36, -4.43]
polity_y_075 = [2.09, 1.84, 1.77, 1.70, 1.63, 1.56, 1.49, 1.42, 1.35, 1.28, 1.21, 1.14, 1.07, 1.00,
                0.93, 0.86, 0.79, 0.72, 0.65, 0.58, 0.51, 0.44, 0.37, 0.30, 0.23, 0.16, 0.09, 0.02,
                -0.05, -0.12, -0.19, -0.26, -0.33, -0.40, -0.47, -0.54, -0.61, -0.68, -0.75, -0.82,
                -0.89, -0.96, -1.03, -1.10, -1.17, -1.24, -1.31, -1.38, -1.45, -1.52, -1.59, -1.66,
                -1.73, -1.80, -1.87, -1.94, -2.01, -2.08, -2.15, -2.22, -2.29, -2.36, -2.43, -2.50,
                -2.57, -2.64, -2.71, -2.78, -2.85, -2.92, -2.99, -3.06, -3.13, -3.20, -3.27, -3.34,
                -3.41, -3.48, -3.55, -3.62, -3.69, -3.76, -3.99, -4.13, -4.32]
polity_y_080 = [3.35, 3.29, 3.23, 3.17, 3.11, 3.05, 2.99, 2.93, 2.87, 2.81, 2.75, 2.69, 2.63, 2.57,
                2.51, 2.45, 2.39, 2.33, 2.26, 2.12, 1.87, 1.73, 1.42, 1.30, 1.17, 1.03, 0.98, 0.89,
                0.83, 0.77, 0.71, 0.65, 0.59, 0.53, 0.47, 0.41, 0.35, 0.29, 0.23, 0.17, 0.11, 0.05,
                -0.01, -0.07, -0.13, -0.19, -0.25, -0.31, -0.37, -0.43, -0.48, -0.53, -0.67, -0.74,
                -0.81, -0.88, -0.95, -1.02, -1.09, -1.16, -1.23, -1.30, -1.37, -1.44, -1.51, -1.58,
                -1.65, -1.72, -1.81, -1.92, -1.99, -2.06, -2.13, -2.20, -2.27, -2.34, -2.41, -2.48,
                -2.55, -2.62, -2.69, -2.76, -2.83, -2.90, -2.97, -3.04, -3.11, -3.18, -3.25, -3.32,
                -3.43, -3.57, -3.82, -3.92, -4.01, -4.15, -4.38]
polity_y_085 = [2.32, 2.26, 2.20, 2.14, 2.08, 2.02, 1.96, 1.90, 1.84, 1.78, 1.72, 1.66, 1.60, 1.54,
                1.48, 1.42, 1.36, 1.30, 1.24, 1.18, 1.12, 1.06, 1.00, 0.94, 0.88, 0.82, 0.76, 0.70,
                0.64, 0.58, 0.52, 0.46, 0.40, 0.34, 0.28, 0.22, 0.16, 0.10, 0.04, -0.02, -0.08,
                -0.14, -0.20, -0.25, -0.36, -0.45, -0.53, -0.75, -0.83, -0.91, -0.99, -1.07, -1.15,
                -1.23, -1.31, -1.39, -1.47, -1.55, -1.63, -1.71, -1.81, -1.98, -2.37, -2.76, -2.84,
                -2.92, -3.00, -3.08, -3.16, -3.24, -3.32, -3.40, -3.48, -3.56, -3.64, -3.74]
polity_y_090 = [3.57, 3.51, 3.45, 3.39, 3.33, 3.27, 3.21, 3.02, 2.96, 2.90, 2.84, 2.79, 2.51, 2.45,
                2.39, 2.33, 2.27, 2.21, 2.15, 2.09, 2.03, 1.97, 1.91, 1.85, 1.79, 1.73, 1.67, 1.61,
                1.55, 1.49, 1.43, 1.37, 1.31, 1.25, 1.19, 1.13, 1.07, 1.01, 0.95, 0.89, 0.83, 0.77,
                0.71, 0.65, 0.59, 0.53, 0.47, 0.41, 0.35, 0.29, 0.23, 0.17, 0.11, 0.05, -0.01, -0.07,
                -0.13, -0.19, -0.25, -0.31, -0.37, -0.43, -0.49, -0.55, -0.61, -0.67, -0.73, -0.79,
                -0.85, -0.91, -0.97, -1.03, -1.09, -1.14, -1.28, -1.37, -1.46, -1.55, -1.64, -1.73,
                -1.82, -1.91, -2.00, -2.15, -2.31, -2.40, -2.49, -2.58, -2.67, -2.76, -2.85, -2.94,
                -3.03, -3.12, -3.21, -3.32, -3.57, -3.68, -3.79, -3.93]
polity_y_095 = [2.85, 2.79, 2.73, 2.67, 2.61, 2.55, 2.49, 2.43, 2.37, 2.31, 2.25, 2.19, 2.13, 2.07,
                2.01, 1.95, 1.89, 1.83, 1.77, 1.71, 1.65, 1.59, 1.53, 1.47, 1.41, 1.35, 1.29, 1.23,
                1.17, 1.11, 1.05, 0.99, 0.93, 0.87, 0.81, 0.75, 0.69, 0.63, 0.57, 0.51, 0.45, 0.39,
                0.33, 0.27, 0.21, 0.15, 0.09, 0.03, -0.03, -0.09, -0.15, -0.21, -0.27, -0.33, -0.39,
                -0.45, -0.51, -0.57, -0.63, -0.69, -0.75, -0.81, -0.87, -0.93, -0.99, -1.05, -1.11,
                -1.34, -1.78, -1.86, -1.94, -2.01, -2.20]
polity_y_100 = [3.54, 3.49, 3.44, 3.39, 3.34, 3.29, 3.24, 3.19, 3.14, 3.09, 3.04, 2.99, 2.94, 2.89,
                2.84, 2.79, 2.74, 2.69, 2.64, 2.59, 2.54, 2.49, 2.44, 2.39, 2.34, 2.29, 2.24, 2.19,
                2.14, 2.09, 2.04, 1.99, 1.94, 1.89, 1.84, 1.79, 1.74, 1.69, 1.64, 1.59, 1.54, 1.49,
                1.44, 1.39, 1.34, 1.29, 1.24, 1.19, 1.14, 1.09, 1.04, 0.99, 0.94, 0.89, 0.84, 0.79,
                0.74, 0.69, 0.64, 0.59, 0.54, 0.49, 0.44, 0.39, 0.36, 0.20, 0.13, 0.06, -0.01, -0.08,
                -0.15, -0.22, -0.29, -0.36, -0.43, -0.50, -0.57, -0.67, -0.86, -1.37, -1.45, -1.53,
                -1.61, -1.70]
polity_strips = [polity_y_000, polity_y_005, polity_y_010, polity_y_015, polity_y_020, polity_y_025,
                 polity_y_030, polity_y_035, polity_y_040, polity_y_045, polity_y_050, polity_y_055,
                 polity_y_060, polity_y_065, polity_y_070, polity_y_075, polity_y_080, polity_y_085,
                 polity_y_090, polity_y_095, polity_y_100]

# ---------------- assemble plotting arrays ----------------
vdem_points = (vdem_low_autocracies + vdem_upper_left + vdem_upper_middle + vdem_near_curve
               + vdem_lower_middle + vdem_lower_tail + vdem_upper_right + vdem_lower_right
               + vdem_top_row)
for cx, ys in vdem_democracy_columns:
    vdem_points += [(cx, y) for y in ys]
vdem_x = [p[0] for p in vdem_points]
vdem_y = [p[1] for p in vdem_points]

polity_x, polity_y = [], []
for lvl, ys in zip(polity_levels, polity_strips):
    polity_x += [lvl] * len(ys)
    polity_y += ys

# ---------------- styling ----------------
FONT = "Liberation Sans, Arial, Helvetica, sans-serif"
PI_FILL = "#e1e1e1"
CI_FILL = "rgba(62, 104, 150, 0.60)"
FIT_LINE = "#1f4a78"
MARKER = dict(symbol="circle", size=8.2,
              color="rgba(140, 30, 45, 0.36)",
              line=dict(color="rgba(140, 30, 45, 0.68)", width=1))

fig = go.Figure()


def add_panel(grid, fit, ci_hi, ci_lo, pi_hi, pi_lo, px, py, xa, ya):
    fig.add_trace(go.Scatter(x=grid, y=pi_hi, mode="lines", line=dict(width=0, shape="spline"),
                             hoverinfo="skip", showlegend=False, xaxis=xa, yaxis=ya))
    fig.add_trace(go.Scatter(x=grid, y=pi_lo, mode="lines", line=dict(width=0, shape="spline"),
                             fill="tonexty", fillcolor=PI_FILL, hoverinfo="skip",
                             showlegend=False, xaxis=xa, yaxis=ya))
    fig.add_trace(go.Scatter(x=px, y=py, mode="markers", marker=MARKER,
                             showlegend=False, xaxis=xa, yaxis=ya))
    fig.add_trace(go.Scatter(x=grid, y=ci_hi, mode="lines", line=dict(width=0, shape="spline"),
                             hoverinfo="skip", showlegend=False, xaxis=xa, yaxis=ya))
    fig.add_trace(go.Scatter(x=grid, y=ci_lo, mode="lines", line=dict(width=0, shape="spline"),
                             fill="tonexty", fillcolor=CI_FILL, hoverinfo="skip",
                             showlegend=False, xaxis=xa, yaxis=ya))
    fig.add_trace(go.Scatter(x=grid, y=fit, mode="lines",
                             line=dict(color=FIT_LINE, width=2.4, shape="spline"),
                             showlegend=False, xaxis=xa, yaxis=ya))


add_panel(vdem_grid, vdem_fit, vdem_ci_hi, vdem_ci_lo, vdem_pi_hi, vdem_pi_lo,
          vdem_x, vdem_y, "x", "y")
add_panel(polity_grid, polity_fit, polity_ci_hi, polity_ci_lo, polity_pi_hi, polity_pi_lo,
          polity_x, polity_y, "x2", "y2")

x_ticks = [0, 0.2, 0.4, 0.6, 0.8, 1.0]
x_labels = ["0", ".2", ".4", ".6", ".8", "1"]
y_ticks = [-5, 0, 5]
y_labels = ["-5", "0", "5"]

common_x = dict(range=[-0.0302, 1.031], tickvals=x_ticks, ticktext=x_labels,
                showline=True, linecolor="#3a3a3a", linewidth=1.3, ticks="outside",
                ticklen=8, tickwidth=1.3, tickcolor="#3a3a3a", showgrid=False,
                zeroline=False, tickfont=dict(family=FONT, size=22, color="#111"),
                fixedrange=True)
common_y = dict(range=[-5.255, 5.517], tickvals=y_ticks, ticktext=y_labels, tickangle=-90,
                showline=True, linecolor="#3a3a3a", linewidth=1.3, ticks="outside",
                ticklen=8, tickwidth=1.3, tickcolor="#3a3a3a", showgrid=True,
                gridcolor="#e6eef0", gridwidth=1.2, zeroline=False,
                tickfont=dict(family=FONT, size=22, color="#111"), fixedrange=True,
                ticklabelstandoff=6)

fig.update_layout(
    width=1289, height=935,
    margin=dict(l=0, r=0, t=0, b=0),
    paper_bgcolor="white", plot_bgcolor="white",
    font=dict(family=FONT, color="#111"),
    xaxis=dict(common_x, domain=[0.0745, 0.4825], anchor="y",
               title=dict(text="Electoral democracy index", standoff=1,
                          font=dict(family=FONT, size=24, color="#111"))),
    yaxis=dict(common_y, domain=[0.1176, 0.909], anchor="x"),
    xaxis2=dict(common_x, domain=[0.5562, 0.9651], anchor="y2",
                title=dict(text="Polity revised combined score", standoff=1,
                           font=dict(family=FONT, size=24, color="#111"))),
    yaxis2=dict(common_y, domain=[0.1176, 0.909], anchor="x2"),
    annotations=[
        dict(text="Predicted ln(lights/area) by VDem index", x=0.2785, y=0.9305,
             xref="paper", yref="paper", xanchor="center", yanchor="middle", showarrow=False,
             font=dict(family=FONT, size=26, color="#1e2e5c")),
        dict(text="Predicted ln(lights/area) by Polity IV index", x=0.7603, y=0.9305,
             xref="paper", yref="paper", xanchor="center", yanchor="middle", showarrow=False,
             font=dict(family=FONT, size=26, color="#1e2e5c")),
    ],
)

fig.write_html("out.html")
